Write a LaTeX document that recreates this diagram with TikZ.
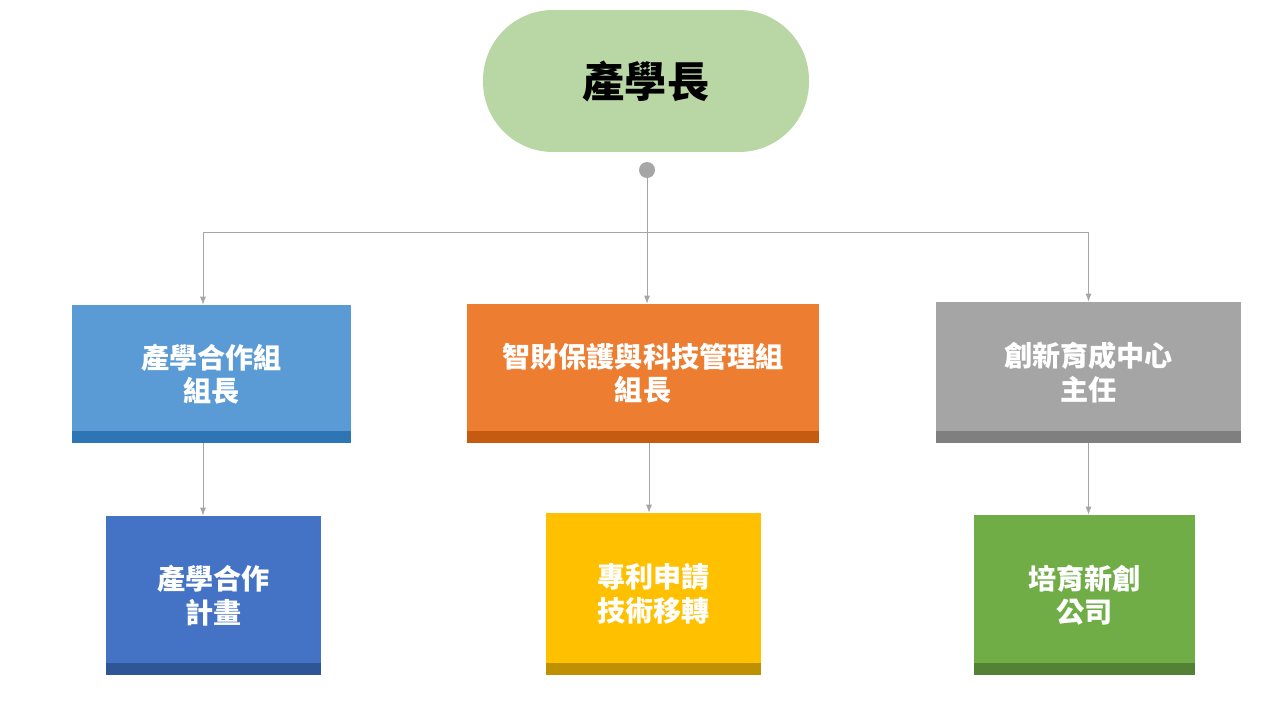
\documentclass[tikz,border=0pt]{standalone}
\usepackage{fontspec}
\setmainfont{Noto Sans CJK TC}
\usetikzlibrary{arrows.meta}

\definecolor{headgreen}{HTML}{B9D7A5}
\definecolor{lblue}{HTML}{5B9BD5}\definecolor{lbluedk}{HTML}{2E75B6}
\definecolor{orng}{HTML}{ED7D31}\definecolor{orngdk}{HTML}{C55A11}
\definecolor{gry}{HTML}{A5A5A5}\definecolor{grydk}{HTML}{7F7F7F}
\definecolor{dblue}{HTML}{4472C4}\definecolor{dbluedk}{HTML}{2F5597}
\definecolor{gold}{HTML}{FFC000}\definecolor{golddk}{HTML}{BF9000}
\definecolor{grn}{HTML}{70AD47}\definecolor{grndk}{HTML}{548235}
\definecolor{linegray}{HTML}{A6A6A6}

\begin{document}
\begin{tikzpicture}[x=0.02cm,y=-0.02cm]
      \tikzstyle{unit}=[rectangle, inner sep=0pt, align=center, text=white, font=\fontsize{16}{19}\selectfont\bfseries]
      \tikzstyle{strip}=[path picture={\fill[#1] (path picture bounding box.south west) rectangle ([yshift=2.4mm]path picture bounding box.south east);}]
      \tikzstyle{connect}=[-{Latex[length=1.6mm,width=1.2mm]}, linegray, line width=0.5pt]

      \useasboundingbox (0,0) rectangle (1280,720);

      \node[fill=headgreen, rounded corners=14mm, minimum width=65.2mm, minimum height=28.4mm,
            font=\fontsize{24}{28}\selectfont\bfseries] (head) at (646,81) {產學長};
      \fill[linegray] (647,170) circle (1.6mm);
      \coordinate (dot) at (647,170);
      \coordinate (bus) at (647,232);

      \node[unit, fill=lblue, strip=lbluedk, minimum width=55.8mm, minimum height=27.6mm] (coop) at (211.5,374) {產學合作組\\組長};
      \node[unit, fill=orng, strip=orngdk, minimum width=70.4mm, minimum height=27.8mm] (ip) at (643,373.5) {智財保護與科技管理組\\組長};
      \node[unit, fill=gry, strip=grydk, minimum width=61mm, minimum height=28.2mm] (incub) at (1088.5,372.5) {創新育成中心\\主任};

      \node[unit, fill=dblue, strip=dbluedk, minimum width=43mm, minimum height=31.8mm] (plan) at (213.5,595.5) {產學合作\\計畫};
      \node[unit, fill=gold, strip=golddk, minimum width=43mm, minimum height=32.4mm] (patent) at (653.5,594) {專利申請\\技術移轉};
      \node[unit, fill=grn, strip=grndk, minimum width=44.2mm, minimum height=32mm] (startup) at (1084.5,595) {培育新創\\公司};

      \draw[connect] (dot) -- (dot |- ip.north);
      \draw[connect] (bus) -| ([xshift=-1.7mm]coop.north);
      \draw[connect] (bus) -| (incub.north);

      \draw[connect] ([xshift=-1.7mm]coop.south) -- ([xshift=-1.7mm]coop.south |- plan.north);
      \draw[connect] ([xshift=1.2mm]ip.south) -- ([xshift=1.2mm]ip.south |- patent.north);
      \draw[connect] (incub.south) -- (incub.south |- startup.north);
\end{tikzpicture}
\end{document}
